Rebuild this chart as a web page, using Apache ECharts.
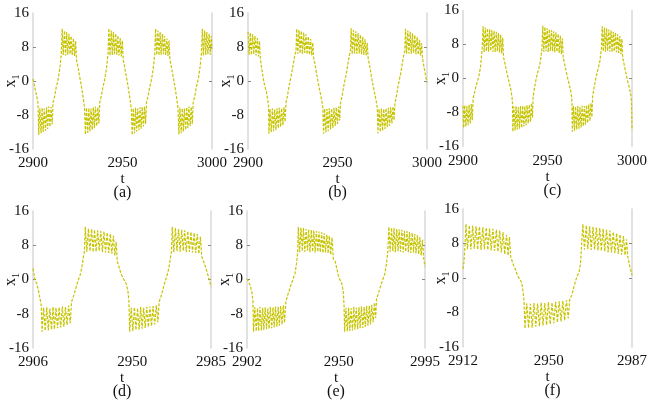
<!DOCTYPE html>
<html>
<head>
<meta charset="utf-8">
<script src="https://cdn.jsdelivr.net/npm/echarts@6/dist/echarts.min.js"></script>
<style>html,body{margin:0;padding:0;background:#fff}</style>
</head>
<body>
<div id="main" style="width:650px;height:402px"></div>
<script>
// x1(t) 曲线，六个子图，数据按图读出 [t, x1]
const dataA = [
  [2900, 0.5], [2901.0, -1.5], [2902.0, -3.4], [2902.8, -5.2],
  [2903.2, -12.7], [2903.8, -6.4], [2904.5, -12.3], [2905.1, -6.3], [2905.7, -12.0], [2906.3, -6.5], [2907.0, -11.7], [2907.6, -6.2], [2908.2, -11.3], [2908.8, -6.0], [2909.5, -10.8], [2910.1, -6.1], [2910.7, -10.2], [2911.2, -5.0],
  [2912.1, -3.6], [2913.0, -1.4], [2913.7, -0.3], [2914.3, 1.1], [2915.1, 3.4], [2915.8, 6.3],
  [2916.3, 12.3], [2916.9, 6.1], [2917.6, 11.8], [2918.2, 6.0], [2918.8, 11.5], [2919.4, 6.2], [2920.1, 11.1], [2920.7, 6.3], [2921.3, 10.6], [2921.9, 6.1], [2922.6, 10.0], [2923.2, 5.9], [2923.8, 9.4], [2924.3, 5.0],
  [2925.1, 3.4], [2926.0, 1.2], [2926.7, -0.4], [2927.4, -2.2], [2928.2, -4.4], [2928.8, -6.4],
  [2929.3, -12.6], [2929.9, -6.3], [2930.6, -12.2], [2931.2, -6.4], [2931.8, -11.9], [2932.4, -6.5], [2933.1, -11.5], [2933.7, -6.2], [2934.3, -11.1], [2934.9, -6.0], [2935.6, -10.6], [2936.2, -6.2], [2936.8, -10.0], [2937.3, -5.0],
  [2938.2, -3.5], [2939.1, -1.3], [2939.8, -0.2], [2940.4, 1.2], [2941.2, 3.5], [2941.9, 6.4],
  [2942.4, 12.4], [2943.0, 6.0], [2943.7, 11.9], [2944.3, 6.1], [2944.9, 11.6], [2945.5, 6.3], [2946.2, 11.2], [2946.8, 6.2], [2947.4, 10.7], [2948.0, 6.0], [2948.7, 10.1], [2949.3, 5.8], [2949.9, 9.5], [2950.4, 5.0],
  [2951.2, 3.3], [2952.1, 1.1], [2952.8, -0.5], [2953.5, -2.3], [2954.3, -4.5], [2954.9, -6.5],
  [2955.4, -12.7], [2956.0, -6.4], [2956.7, -12.3], [2957.3, -6.3], [2957.9, -11.9], [2958.5, -6.5], [2959.2, -11.6], [2959.8, -6.2], [2960.4, -11.2], [2961.0, -6.1], [2961.7, -10.7], [2962.3, -6.0], [2962.9, -10.1], [2963.4, -5.0],
  [2964.3, -3.6], [2965.2, -1.4], [2965.9, -0.3], [2966.5, 1.1], [2967.3, 3.4], [2968.0, 6.3],
  [2968.5, 12.3], [2969.1, 6.1], [2969.8, 11.9], [2970.4, 6.0], [2971.0, 11.5], [2971.6, 6.2], [2972.3, 11.1], [2972.9, 6.3], [2973.5, 10.6], [2974.1, 6.1], [2974.8, 10.0], [2975.4, 5.9], [2976.0, 9.5], [2976.5, 5.0],
  [2977.3, 3.4], [2978.2, 1.2], [2978.9, -0.4], [2979.6, -2.2], [2980.4, -4.4], [2981.0, -6.4],
  [2981.5, -12.6], [2982.1, -6.3], [2982.8, -12.3], [2983.4, -6.4], [2984.0, -11.9], [2984.6, -6.5], [2985.3, -11.5], [2985.9, -6.2], [2986.5, -11.1], [2987.1, -6.0], [2987.8, -10.6], [2988.4, -6.1], [2989.0, -10.1], [2989.5, -5.0],
  [2990.4, -3.5], [2991.3, -1.3], [2992.0, -0.2], [2992.6, 1.2], [2993.4, 3.5], [2994.1, 6.4],
  [2994.6, 12.3], [2995.2, 6.0], [2995.9, 11.9], [2996.5, 6.1], [2997.1, 11.5], [2997.7, 6.3], [2998.4, 11.1], [2999.0, 6.2], [2999.6, 10.6], [3000, 7.5]
];
const dataB = [
  [2900, 11.6], [2900.6, 6.2], [2901.3, 11.3], [2901.9, 6.1], [2902.6, 11.0], [2903.2, 6.3], [2903.9, 10.6], [2904.5, 6.0], [2905.2, 10.1], [2905.8, 5.8], [2906.4, 9.4], [2906.9, 5.2],
  [2907.7, 2.8], [2908.6, 0.4], [2909.4, -1.2], [2910.3, -2.6], [2911.1, -4.6], [2911.5, -6.0],
  [2911.7, -12.4], [2912.3, -6.6], [2913.0, -12.0], [2913.6, -6.5], [2914.3, -11.8], [2914.9, -6.7], [2915.6, -11.5], [2916.2, -6.4], [2916.9, -11.1], [2917.5, -6.3], [2918.2, -10.8], [2918.8, -6.4], [2919.5, -10.4], [2920.1, -6.2], [2920.7, -9.6], [2921.2, -5.2],
  [2922.0, -3.6], [2922.9, -1.3], [2923.6, 0.2], [2924.4, 1.8], [2925.3, 4.0], [2926.2, 6.2], [2926.8, 7.0],
  [2927.2, 12.3], [2927.8, 6.4], [2928.5, 12.0], [2929.1, 6.5], [2929.8, 11.8], [2930.4, 6.4], [2931.1, 11.4], [2931.7, 6.6], [2932.4, 11.0], [2933.0, 6.3], [2933.7, 10.5], [2934.3, 6.2], [2935.0, 9.9], [2935.6, 6.0], [2936.2, 9.0], [2936.7, 5.4],
  [2937.5, 3.8], [2938.4, 1.6], [2939.2, -0.4], [2940.1, -2.3], [2941.1, -4.3], [2941.8, -6.2],
  [2942.2, -12.4], [2942.8, -6.5], [2943.5, -12.1], [2944.1, -6.6], [2944.8, -11.8], [2945.4, -6.4], [2946.1, -11.4], [2946.7, -6.5], [2947.4, -11.0], [2948.0, -6.3], [2948.7, -10.6], [2949.3, -6.2], [2950.0, -10.1], [2950.6, -6.0], [2951.2, -9.3], [2951.7, -5.2],
  [2952.5, -3.7], [2953.4, -1.4], [2954.1, 0.1], [2954.9, 1.7], [2955.8, 4.0], [2956.7, 6.2], [2957.2, 7.0],
  [2957.6, 12.4], [2958.2, 6.3], [2958.9, 12.0], [2959.5, 6.5], [2960.2, 11.7], [2960.8, 6.4], [2961.5, 11.3], [2962.1, 6.5], [2962.8, 10.9], [2963.4, 6.3], [2964.1, 10.4], [2964.7, 6.1], [2965.4, 9.8], [2966.0, 6.0], [2966.6, 9.0], [2967.1, 5.4],
  [2967.9, 3.7], [2968.8, 1.5], [2969.6, -0.5], [2970.5, -2.4], [2971.5, -4.4], [2972.2, -6.3],
  [2972.6, -12.3], [2973.2, -6.6], [2973.9, -12.0], [2974.5, -6.5], [2975.2, -11.7], [2975.8, -6.6], [2976.5, -11.3], [2977.1, -6.4], [2977.8, -10.9], [2978.4, -6.3], [2979.1, -10.5], [2979.7, -6.2], [2980.4, -10.0], [2981.0, -6.0], [2981.6, -9.2], [2982.1, -5.2],
  [2982.9, -3.6], [2983.8, -1.3], [2984.5, 0.2], [2985.3, 1.8], [2986.2, 4.1], [2987.1, 6.3], [2987.6, 7.0],
  [2988.0, 12.3], [2988.6, 6.4], [2989.3, 11.9], [2989.9, 6.5], [2990.6, 11.6], [2991.2, 6.4], [2991.9, 11.2], [2992.5, 6.6], [2993.2, 10.8], [2993.8, 6.3], [2994.5, 10.3], [2995.1, 6.2], [2995.8, 9.7], [2996.4, 6.0], [2997.0, 8.9], [2997.5, 5.3],
  [2998.3, 3.4], [2999.2, 1.3], [3000, -0.4]
];
const dataC = [
  [2900, -6.4], [2900.4, -11.6], [2901.0, -6.3], [2901.7, -11.3], [2902.3, -6.5], [2903.0, -11.0], [2903.6, -6.2], [2904.3, -10.6], [2904.9, -6.0], [2905.5, -9.8], [2906.0, -4.6],
  [2906.8, -3.4], [2907.7, -1.8], [2908.6, -0.6], [2909.5, 0.8], [2910.4, 2.8], [2911.3, 6.8],
  [2911.9, 12.3], [2912.5, 6.2], [2913.2, 12.0], [2913.8, 6.4], [2914.5, 11.8], [2915.1, 6.3], [2915.8, 11.6], [2916.4, 6.5], [2917.1, 11.4], [2917.7, 6.3], [2918.4, 11.2], [2919.0, 6.2], [2919.7, 11.0], [2920.3, 6.4], [2921.0, 10.7], [2921.6, 6.1], [2922.3, 10.3], [2922.9, 5.9], [2923.5, 9.6], [2924.0, 5.0],
  [2924.8, 3.6], [2925.6, 2.0], [2926.4, 0.6], [2927.2, -0.8], [2928.1, -2.1], [2929.0, -4.3], [2929.3, -6.0],
  [2929.5, -12.5], [2930.1, -6.6], [2930.8, -12.2], [2931.4, -6.5], [2932.1, -12.0], [2932.7, -6.7], [2933.4, -11.8], [2934.0, -6.5], [2934.7, -11.6], [2935.3, -6.4], [2936.0, -11.3], [2936.6, -6.5], [2937.3, -11.0], [2937.9, -6.3], [2938.6, -10.6], [2939.2, -6.2], [2939.9, -10.2], [2940.5, -5.8], [2941.1, -9.2], [2941.5, -4.3],
  [2942.3, -2.2], [2943.2, -0.3], [2944.0, 1.2], [2944.9, 2.4], [2945.8, 4.0], [2946.7, 7.0],
  [2947.2, 12.4], [2947.8, 6.3], [2948.5, 12.1], [2949.1, 6.4], [2949.8, 11.8], [2950.4, 6.2], [2951.1, 11.6], [2951.7, 6.5], [2952.4, 11.4], [2953.0, 6.4], [2953.7, 11.1], [2954.3, 6.2], [2955.0, 10.9], [2955.6, 6.3], [2956.3, 10.5], [2956.9, 6.0], [2957.6, 10.1], [2958.2, 5.8], [2958.8, 9.4], [2959.3, 4.9],
  [2960.1, 3.5], [2960.9, 1.9], [2961.7, 0.5], [2962.5, -0.9], [2963.4, -2.3], [2964.3, -4.4], [2964.5, -6.0],
  [2964.7, -12.5], [2965.3, -6.5], [2966.0, -12.3], [2966.6, -6.6], [2967.3, -12.0], [2967.9, -6.5], [2968.6, -11.8], [2969.2, -6.7], [2969.9, -11.5], [2970.5, -6.4], [2971.2, -11.2], [2971.8, -6.5], [2972.5, -10.9], [2973.1, -6.3], [2973.8, -10.5], [2974.4, -6.1], [2975.1, -10.0], [2975.7, -5.8], [2976.3, -9.1], [2976.7, -4.3],
  [2977.5, -2.3], [2978.4, -0.4], [2979.2, 1.1], [2980.1, 2.5], [2981.0, 4.1], [2981.9, 7.0],
  [2982.4, 12.3], [2983.0, 6.4], [2983.7, 12.0], [2984.3, 6.3], [2985.0, 11.8], [2985.6, 6.5], [2986.3, 11.5], [2986.9, 6.3], [2987.6, 11.3], [2988.2, 6.2], [2988.9, 11.0], [2989.5, 6.4], [2990.2, 10.8], [2990.8, 6.2], [2991.5, 10.4], [2992.1, 6.0], [2992.8, 10.0], [2993.4, 5.7], [2994.0, 9.3], [2994.5, 4.9],
  [2995.3, 3.4], [2996.1, 1.8], [2996.9, 0.4], [2997.7, -1.0], [2998.6, -2.4], [2999.5, -4.5], [2999.8, -6.5], [3000, -12.2]
];
const dataD = [
  [2906, 2.6], [2906.9, -0.1], [2907.6, -0.9], [2908.4, -2.5], [2909.1, -4.4], [2909.7, -6.2],
  [2910.0, -12.2], [2910.7, -6.6], [2911.4, -12.0], [2912.1, -6.5], [2912.8, -11.9], [2913.5, -6.7], [2914.2, -11.7], [2914.9, -6.4], [2915.5, -11.6], [2916.2, -6.6], [2916.9, -11.4], [2917.6, -6.5], [2918.3, -11.2], [2919.0, -6.3], [2919.7, -11.0], [2920.4, -6.4], [2921.1, -10.6], [2921.8, -6.1], [2922.5, -10.2], [2923.1, -5.2],
  [2923.9, -4.0], [2924.6, -2.8], [2925.4, -1.3], [2926.1, -0.1], [2926.9, 1.0], [2927.6, 2.6], [2928.3, 5.0], [2928.8, 6.5],
  [2929.2, 12.3], [2929.9, 6.5], [2930.6, 11.9], [2931.3, 6.6], [2932.0, 11.8], [2932.7, 6.4], [2933.3, 11.6], [2934.0, 6.5], [2934.7, 11.5], [2935.4, 6.7], [2936.1, 11.3], [2936.8, 6.4], [2937.5, 11.2], [2938.2, 6.3], [2938.9, 11.0], [2939.6, 6.2], [2940.3, 10.7], [2941.0, 6.0], [2941.7, 10.2], [2942.3, 5.6], [2942.9, 8.8], [2943.4, 4.2],
  [2944.0, 3.2], [2945.2, 1.2], [2946.4, -0.1], [2947.3, -0.9], [2948.1, -2.6], [2948.6, -5.2],
  [2948.9, -12.2], [2949.6, -6.6], [2950.3, -12.0], [2951.0, -6.5], [2951.7, -11.8], [2952.4, -6.7], [2953.1, -11.7], [2953.8, -6.4], [2954.4, -11.5], [2955.1, -6.6], [2955.8, -11.3], [2956.5, -6.4], [2957.2, -11.1], [2957.9, -6.3], [2958.6, -10.9], [2959.3, -6.2], [2960.0, -10.5], [2960.7, -6.0], [2961.4, -10.0], [2962.0, -5.2],
  [2962.8, -4.0], [2963.5, -2.7], [2964.2, -1.2], [2964.9, 0.0], [2965.6, 1.1], [2966.3, 2.7], [2967.0, 5.0], [2967.5, 6.6],
  [2967.8, 12.3], [2968.5, 6.4], [2969.2, 12.0], [2969.9, 6.6], [2970.6, 11.8], [2971.3, 6.5], [2972.0, 11.6], [2972.7, 6.7], [2973.3, 11.5], [2974.0, 6.4], [2974.7, 11.3], [2975.4, 6.5], [2976.1, 11.1], [2976.8, 6.3], [2977.5, 10.9], [2978.2, 6.2], [2978.9, 10.6], [2979.6, 6.0], [2980.3, 10.0], [2980.9, 5.3],
  [2981.7, 4.2], [2982.6, 2.8], [2983.5, 1.3], [2984.3, -0.2], [2985, -1.7]
];
const dataE = [
  [2902, 0.2], [2903.5, -1.2], [2904.5, -2.8], [2905.1, -5.0],
  [2905.4, -12.2], [2906.1, -6.5], [2906.8, -12.1], [2907.5, -6.7], [2908.1, -12.0], [2908.8, -6.4], [2909.5, -11.9], [2910.2, -6.6], [2910.8, -11.8], [2911.5, -6.5], [2912.2, -11.6], [2912.9, -6.7], [2913.5, -11.5], [2914.2, -6.4], [2914.9, -11.4], [2915.6, -6.5], [2916.2, -11.2], [2916.9, -6.3], [2917.6, -11.0], [2918.3, -6.4], [2918.9, -10.8], [2919.6, -6.2], [2920.3, -10.5], [2921.0, -6.0], [2921.6, -10.1], [2922.3, -5.2],
  [2923.3, -3.6], [2924.1, -2.5], [2925.0, -1.3], [2926.2, 0.3], [2927.1, 1.4], [2928.0, 4.2], [2928.5, 6.5],
  [2928.8, 12.3], [2929.5, 6.4], [2930.2, 12.1], [2930.9, 6.6], [2931.5, 12.0], [2932.2, 6.5], [2932.9, 11.8], [2933.6, 6.7], [2934.2, 11.7], [2934.9, 6.4], [2935.6, 11.6], [2936.3, 6.5], [2936.9, 11.5], [2937.6, 6.3], [2938.3, 11.3], [2939.0, 6.5], [2939.6, 11.2], [2940.3, 6.4], [2941.0, 11.0], [2941.7, 6.2], [2942.3, 10.8], [2943.0, 6.3], [2943.7, 10.5], [2944.4, 6.1], [2945.0, 10.2], [2945.7, 5.8], [2946.4, 9.8], [2947.1, 4.8],
  [2948.1, 4.2], [2948.9, 2.6], [2949.7, 1.0], [2950.6, -0.1], [2951.5, -0.9], [2952.3, -2.8], [2952.7, -6.0],
  [2953.0, -12.2], [2953.7, -6.6], [2954.4, -12.1], [2955.1, -6.5], [2955.7, -12.0], [2956.4, -6.7], [2957.1, -11.9], [2957.8, -6.4], [2958.4, -11.7], [2959.1, -6.6], [2959.8, -11.6], [2960.5, -6.5], [2961.1, -11.4], [2961.8, -6.3], [2962.5, -11.3], [2963.2, -6.4], [2963.8, -11.1], [2964.5, -6.2], [2965.2, -10.8], [2965.9, -6.1], [2966.5, -10.5], [2967.2, -5.9], [2967.9, -10.0], [2968.6, -5.4], [2969.2, -9.0], [2969.7, -4.6],
  [2970.4, -3.6], [2971.2, -2.4], [2972.1, -1.2], [2973.2, 0.3], [2974.1, 1.5], [2975.0, 4.2], [2975.6, 6.6],
  [2976.1, 12.3], [2976.8, 6.5], [2977.5, 12.1], [2978.2, 6.6], [2978.8, 12.0], [2979.5, 6.4], [2980.2, 11.8], [2980.9, 6.6], [2981.5, 11.7], [2982.2, 6.5], [2982.9, 11.6], [2983.6, 6.3], [2984.2, 11.4], [2984.9, 6.5], [2985.6, 11.3], [2986.3, 6.4], [2986.9, 11.1], [2987.6, 6.2], [2988.3, 10.9], [2989.0, 6.3], [2989.6, 10.6], [2990.3, 6.1], [2991.0, 10.3], [2991.7, 5.9], [2992.3, 9.9], [2993.0, 5.6], [2993.7, 9.3], [2994.3, 5.0], [2995, 3.0]
];
const dataF = [
  [2912, 2.1], [2912.4, 3.6], [2912.8, 6.7],
  [2913.3, 12.5], [2914.0, 6.7], [2914.8, 12.2], [2915.5, 6.6], [2916.3, 12.1], [2917.0, 6.8], [2917.8, 12.0], [2918.5, 6.6], [2919.3, 11.9], [2920.0, 6.5], [2920.8, 11.8], [2921.5, 6.7], [2922.3, 11.7], [2923.0, 6.5], [2923.8, 11.5], [2924.5, 6.4], [2925.3, 11.4], [2926.0, 6.3], [2926.8, 11.2], [2927.5, 6.1], [2928.3, 11.0], [2929.0, 5.9], [2929.8, 10.6], [2930.5, 5.5], [2931.3, 10.0], [2932.0, 5.2], [2932.6, 9.5], [2933.2, 4.8],
  [2933.8, 4.4], [2934.5, 2.9], [2935.2, 2.1], [2935.9, 1.0], [2936.6, 0.2], [2937.3, -0.2], [2938.0, -1.0], [2938.7, -3.3], [2939.1, -5.6],
  [2939.5, -11.7], [2940.3, -5.9], [2941.1, -11.6], [2941.9, -6.0], [2942.7, -11.5], [2943.5, -5.8], [2944.3, -11.3], [2945.1, -5.9], [2945.9, -11.2], [2946.7, -5.7], [2947.5, -11.0], [2948.3, -5.8], [2949.1, -10.9], [2949.9, -5.6], [2950.7, -10.7], [2951.5, -5.7], [2952.3, -10.5], [2953.1, -5.5], [2953.9, -10.3], [2954.7, -5.4], [2955.5, -10.1], [2956.3, -5.3], [2957.1, -9.8], [2957.9, -5.2], [2958.7, -9.3], [2959.4, -4.8],
  [2960.3, -4.0], [2961.0, -2.5], [2962.0, -0.6], [2962.8, 0.6], [2963.5, 1.3], [2964.2, 3.6], [2964.6, 7.5],
  [2965.2, 12.5], [2965.9, 6.6], [2966.7, 12.2], [2967.4, 6.7], [2968.2, 12.0], [2968.9, 6.5], [2969.7, 11.9], [2970.4, 6.6], [2971.2, 11.7], [2971.9, 6.4], [2972.7, 11.6], [2973.4, 6.3], [2974.2, 11.4], [2974.9, 6.2], [2975.7, 11.2], [2976.4, 6.0], [2977.2, 11.0], [2977.9, 5.9], [2978.7, 10.7], [2979.4, 5.8], [2980.2, 10.4], [2980.9, 5.6], [2981.7, 10.1], [2982.4, 5.4], [2983.2, 9.7], [2983.9, 5.3], [2984.6, 9.0], [2985.1, 5.0],
  [2985.9, 3.0], [2986.5, 1.8], [2987, 0.6]
];

// 横轴刻度（首、中、尾）
const xTicksA = [2900, 2950, 3000];
const xTicksB = [2900, 2950, 3000];
const xTicksC = [2900, 2950, 3000];
const xTicksD = [2906, 2950, 2985];
const xTicksE = [2902, 2950, 2995];
const xTicksF = [2912, 2950, 2987];
const yTicks = [-16, -8, 0, 8, 16];
const panelLabels = ['(a)', '(b)', '(c)', '(d)', '(e)', '(f)'];

const allData = [dataA, dataB, dataC, dataD, dataE, dataF];
const allTicks = [xTicksA, xTicksB, xTicksC, xTicksD, xTicksE, xTicksF];

// 子图位置
const boxes = [
  { left: 33, top: 13, width: 179, height: 136 },
  { left: 248, top: 13, width: 179, height: 136 },
  { left: 463, top: 10.5, width: 179, height: 136 },
  { left: 33, top: 211, width: 178, height: 137 },
  { left: 247, top: 211, width: 178, height: 137 },
  { left: 463, top: 209, width: 179, height: 138 }
];

const FONT = '"Liberation Serif", "Times New Roman", "DejaVu Serif", serif';
const LINE = '#C6C400';

const grid = []
const xAxis = []
const yAxis = []
const series = []
const graphic = []

boxes.forEach(function(b, i) {
  grid.push({ left: b.left, top: b.top, width: b.width, height: b.height, containLabel: false })
  const ticks = allTicks[i]
  xAxis.push({
    type: 'value',
    gridIndex: i,
    min: ticks[0],
    max: ticks[ticks.length - 1],
    name: 't',
    nameLocation: 'middle',
    nameGap: 21,
    nameTextStyle: { fontFamily: FONT, fontSize: 15, color: '#111' },
    axisLine: { show: false },
    axisTick: { show: false },
    splitLine: { show: false },
    axisLabel: {
      customValues: ticks,
      margin: 7,
      fontFamily: FONT,
      fontSize: 15,
      color: '#111',
      formatter: function(v) { return String(v) }
    }
  })
  yAxis.push({
    type: 'value',
    gridIndex: i,
    min: yTicks[0],
    max: yTicks[yTicks.length - 1],
    interval: 8,
    axisLine: { show: true, lineStyle: { color: '#d9d9d9', width: 1.5 } },
    axisTick: { show: true, inside: true, length: 3, customValues: [0, 8], lineStyle: { color: '#888' } },
    splitLine: { show: false },
    axisLabel: { margin: 4, fontFamily: FONT, fontSize: 15, color: '#111' }
  })
  yAxis.push({
    type: 'value',
    gridIndex: i,
    position: 'right',
    min: yTicks[0],
    max: yTicks[yTicks.length - 1],
    interval: 8,
    axisLine: { show: true, lineStyle: { color: '#d9d9d9', width: 1.5 } },
    axisTick: { show: true, inside: true, length: 3, customValues: [0, 8], lineStyle: { color: '#888' } },
    axisLabel: { show: false },
    splitLine: { show: false }
  })
  series.push({
    type: 'line',
    xAxisIndex: i,
    yAxisIndex: i * 2,
    data: allData[i],
    showSymbol: false,
    silent: true,
    animation: false,
    lineStyle: { color: LINE, width: 1.2, type: [3, 1.5] },
    clip: true
  })
  // 面板编号
  graphic.push({
    type: 'text',
    x: b.left + b.width / 2,
    y: b.top + b.height + 44,
    style: { text: panelLabels[i], font: '16px ' + FONT, fill: '#111', align: 'center', verticalAlign: 'middle' }
  })
  // 纵轴名 x1（竖排）
  graphic.push({
    type: 'text',
    x: b.left - 22,
    y: b.top + b.height / 2,
    rotation: Math.PI / 2,
    style: {
      text: '{a|x}{b|1}',
      align: 'center',
      verticalAlign: 'middle',
      rich: {
        a: { font: '16px ' + FONT, fill: '#111', verticalAlign: 'top', lineHeight: 16 },
        b: { font: '10px ' + FONT, fill: '#111', verticalAlign: 'top', lineHeight: 10, padding: [8, 0, 0, 0] }
      }
    }
  })
})

var myChart = echarts.init(document.getElementById('main'))
myChart.setOption({
  animation: false,
  backgroundColor: '#fff',
  grid: grid,
  xAxis: xAxis,
  yAxis: yAxis,
  series: series,
  graphic: graphic
})
</script>
</body>
</html>
